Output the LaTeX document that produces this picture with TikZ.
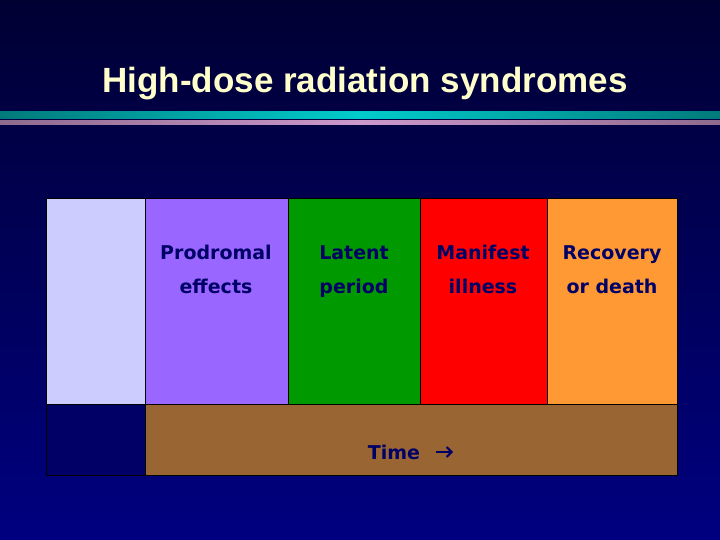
\documentclass[tikz,border=0pt]{standalone}
\usepackage{fontspec}
\setmainfont{Liberation Sans}
\newfontfamily\boxfont{DejaVu Sans}
\usetikzlibrary{arrows.meta}
\definecolor{bgtop}{HTML}{000033}
\definecolor{bgbot}{HTML}{000080}
\definecolor{ttl}{HTML}{FFFFCC}
\definecolor{txt}{HTML}{000066}
\definecolor{c1}{HTML}{CCCCFF}
\definecolor{c2}{HTML}{9966FF}
\definecolor{c3}{HTML}{009900}
\definecolor{c4}{HTML}{FF0000}
\definecolor{c5}{HTML}{FF9933}
\definecolor{c6}{HTML}{996633}
\definecolor{c7}{HTML}{000066}
\definecolor{teal}{HTML}{00CCCC}
\definecolor{mauve}{HTML}{CC99CC}
\begin{document}
\begin{tikzpicture}[x=1pt,y=-1pt,
  cell/.style={draw=black,line width=0.8pt},
  lbl/.style={text=txt,font=\boxfont\bfseries\fontsize{19}{34}\selectfont,align=center,anchor=base},
  lbl1/.style={lbl}]
\useasboundingbox (0,0) rectangle (720,540);
\shade[top color=bgtop,bottom color=bgbot] (0,0) rectangle (720,540);
\node[text=ttl,font=\bfseries\fontsize{35}{40}\selectfont] (title) at (365,84) {High-dose radiation syndromes};
\shade[left color=teal!60!black,right color=teal!60!black,middle color=teal] (0,112) rectangle (720,119);
\shade[left color=mauve!70!black,right color=mauve!70!black,middle color=mauve] (0,121) rectangle (720,125);
\draw[cell,fill=c1] (46,198) rectangle (145,404);
\draw[cell,fill=c2] (145,198) rectangle (288,404);
\draw[cell,fill=c3] (288,198) rectangle (420,404);
\draw[cell,fill=c4] (420,198) rectangle (547,404);
\draw[cell,fill=c5] (547,198) rectangle (677,404);
\draw[cell,fill=c7] (46,404) rectangle (145,475);
\draw[cell,fill=c6] (145,404) rectangle (677,475);
\node[lbl] (p) at (216,293) {Prodromal\\effects};
\node[lbl] (l) at (354,293) {Latent\\period};
\node[lbl] (m) at (483,293) {Manifest\\illness};
\node[lbl] (r) at (612,293) {Recovery\\or death};
\node[lbl] (t) at (394,459) {Time};
\coordinate (a1) at (436,452);
\coordinate (a2) at (453,452);
\draw[txt,line width=2pt,-{Straight Barb[length=5pt,width=10pt]}] (a1) -- (a2);
\end{tikzpicture}
\end{document}
